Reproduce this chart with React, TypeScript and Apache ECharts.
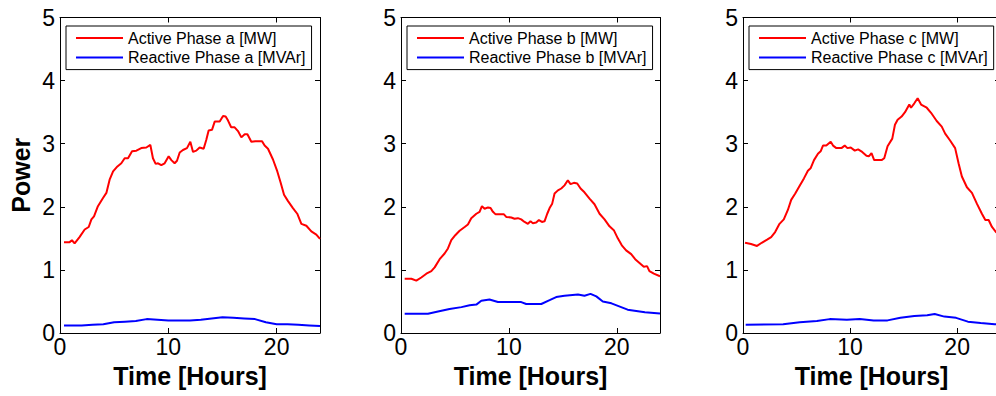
import React, { useEffect, useRef } from "react";
import * as echarts from "echarts";

// ---------- data (hours, value) ----------
const xTicks = [0, 10, 20];
const yTicks = [0, 1, 2, 3, 4, 5];

const activeA: [number, number][] = [
  [0.37, 1.44], [0.89, 1.44], [1.1, 1.47], [1.35, 1.42], [1.8, 1.52], [2.28, 1.64], [2.65, 1.68], [2.9, 1.8],
  [3.14, 1.85], [3.5, 2.01], [3.97, 2.14], [4.28, 2.22], [4.58, 2.43], [4.9, 2.56], [5.3, 2.64], [5.66, 2.69],
  [5.97, 2.77], [6.28, 2.77], [6.65, 2.88], [7.05, 2.89], [7.5, 2.93], [7.97, 2.94], [8.34, 2.98], [8.58, 2.77],
  [8.83, 2.68], [9.05, 2.69], [9.35, 2.66], [9.66, 2.69], [10.03, 2.8], [10.28, 2.74], [10.58, 2.69], [10.8, 2.73],
  [11.05, 2.86], [11.35, 2.9], [11.72, 2.93], [12.03, 3.03], [12.28, 2.87], [12.58, 2.89], [12.89, 2.94], [13.26, 2.92],
  [13.5, 3.06], [13.72, 3.21], [14.03, 3.22], [14.28, 3.35], [14.74, 3.35], [15.05, 3.44], [15.29, 3.43], [15.5, 3.37],
  [15.8, 3.26], [16.12, 3.26], [16.43, 3.2], [16.74, 3.1], [17.05, 3.15], [17.3, 3.15], [17.66, 3.03], [18.03, 3.04],
  [18.65, 3.04], [18.89, 2.97], [19.2, 2.92], [19.66, 2.75], [20.06, 2.56], [20.37, 2.38], [20.68, 2.19], [21.05, 2.09],
  [21.5, 1.98], [21.9, 1.89], [22.28, 1.73], [22.74, 1.7], [23.2, 1.61], [23.66, 1.56], [24.0, 1.49],
];

const reactiveA: [number, number][] = [
  [0.37, 0.12], [1, 0.12], [2, 0.12], [3, 0.13], [4, 0.14], [5, 0.17], [6, 0.18], [7, 0.19], [8, 0.22],
  [9, 0.21], [10, 0.2], [11, 0.2], [12, 0.2], [13, 0.21], [14, 0.23], [15, 0.25], [16, 0.24], [17, 0.23],
  [18, 0.22], [19, 0.17], [20, 0.14], [21, 0.14], [22, 0.13], [23, 0.12], [24, 0.11],
];

const activeB: [number, number][] = [
  [0.34, 0.86], [0.96, 0.86], [1.42, 0.83], [1.88, 0.88], [2.35, 0.94], [2.81, 0.98], [3.12, 1.04], [3.58, 1.17],
  [4.04, 1.26], [4.35, 1.34], [4.66, 1.47], [5.03, 1.55], [5.43, 1.62], [5.9, 1.68], [6.2, 1.72], [6.51, 1.82],
  [6.98, 1.89], [7.28, 1.92], [7.5, 2.01], [7.75, 1.97], [8.06, 1.99], [8.3, 1.98], [8.52, 1.92], [8.77, 1.88],
  [9.14, 1.88], [9.54, 1.88], [9.75, 1.84], [10.22, 1.83], [10.52, 1.81], [10.83, 1.82], [11.14, 1.8], [11.45, 1.76],
  [11.76, 1.73], [12.0, 1.77], [12.22, 1.74], [12.53, 1.75], [12.78, 1.79], [13.06, 1.76], [13.3, 1.77], [13.55, 1.89],
  [13.77, 1.98], [14.01, 2.05], [14.23, 2.21], [14.54, 2.26], [14.85, 2.29], [15.15, 2.34], [15.46, 2.42], [15.71, 2.36],
  [16.02, 2.38], [16.33, 2.37], [16.64, 2.29], [17.0, 2.23], [17.47, 2.13], [17.93, 2.04], [18.4, 1.89], [18.86, 1.8],
  [19.32, 1.69], [19.72, 1.63], [20.09, 1.5], [20.46, 1.39], [20.86, 1.31], [21.33, 1.25], [21.7, 1.17], [22.1, 1.11],
  [22.5, 1.05], [22.8, 1.06], [23.02, 0.98], [23.43, 0.94], [24.0, 0.9],
];

const reactiveB: [number, number][] = [
  [0.34, 0.305], [2.5, 0.305], [3.43, 0.34], [4.5, 0.38], [5.6, 0.41], [6.36, 0.44], [6.98, 0.45], [7.44, 0.51],
  [8.2, 0.53], [8.98, 0.49], [10.2, 0.49], [11.14, 0.49], [11.6, 0.46], [13.0, 0.46], [13.77, 0.52], [14.38, 0.57],
  [15.15, 0.59], [16.4, 0.61], [17.0, 0.59], [17.56, 0.62], [18.1, 0.58], [18.7, 0.5], [19.5, 0.47], [21.0, 0.37],
  [22.6, 0.33], [24.0, 0.31],
];

const activeC: [number, number][] = [
  [0.19, 1.43], [0.75, 1.41], [1.31, 1.38], [1.75, 1.43], [2.25, 1.48], [2.63, 1.52], [3.0, 1.6], [3.41, 1.73],
  [3.81, 1.8], [4.19, 1.95], [4.5, 2.11], [4.88, 2.21], [5.28, 2.33], [5.69, 2.45], [6.06, 2.57], [6.31, 2.61],
  [6.63, 2.74], [7.0, 2.84], [7.25, 2.88], [7.47, 2.97], [7.78, 2.97], [8.19, 3.03], [8.41, 2.97], [8.72, 2.93],
  [9.19, 2.93], [9.5, 2.97], [9.75, 2.93], [10.06, 2.94], [10.44, 2.89], [10.75, 2.91], [11.13, 2.87], [11.53, 2.81],
  [11.75, 2.8], [12.0, 2.85], [12.25, 2.74], [12.63, 2.74], [12.94, 2.74], [13.19, 2.77], [13.5, 2.96], [13.94, 3.08],
  [14.19, 3.3], [14.44, 3.38], [14.81, 3.43], [15.13, 3.5], [15.53, 3.62], [15.69, 3.57], [16.0, 3.64], [16.31, 3.72],
  [16.63, 3.62], [17.16, 3.57], [17.56, 3.49], [18.09, 3.36], [18.56, 3.27], [18.88, 3.16], [19.34, 3.05], [19.81, 2.93],
  [20.13, 2.69], [20.44, 2.48], [20.91, 2.31], [21.38, 2.22], [21.84, 2.05], [22.31, 1.89], [22.63, 1.79], [22.94, 1.79],
  [23.25, 1.68], [23.63, 1.6], [24.0, 1.56],
];

const reactiveC: [number, number][] = [
  [0.25, 0.13], [3.75, 0.14], [5.3, 0.17], [6.9, 0.19], [8.1, 0.22], [9.7, 0.21], [10.9, 0.22], [12.2, 0.2],
  [13.5, 0.2], [14.7, 0.24], [16.0, 0.27], [17.2, 0.28], [17.9, 0.3], [18.8, 0.26], [19.9, 0.24], [21.0, 0.18],
  [22.2, 0.16], [23.5, 0.14], [24.0, 0.14],
];

const phases = ["a", "b", "c"];
const activeData = [activeA, activeB, activeC];
const reactiveData = [reactiveA, reactiveB, reactiveC];

// ---------- layout ----------
const FONT = "'Liberation Sans', Arial, Helvetica, sans-serif";
const gridLefts = [60, 401, 743];
const gridWidths = [260, 259, 257];
const gridTop = 17.5;
const gridHeight = 315.5;

export default function App() {
  const ref = useRef<HTMLDivElement>(null);

  useEffect(() => {
    if (!ref.current) return;
    const chart = echarts.init(ref.current, undefined, { renderer: "svg" });

    const axisLine = { show: true, onZero: false, lineStyle: { color: "#000", width: 1 } };
    const tick = { show: true, inside: true, length: 5, lineStyle: { color: "#000", width: 1 } };

    const grids: any[] = [];
    const xAxes: any[] = [];
    const yAxes: any[] = [];
    const series: any[] = [];
    const legends: any[] = [];

    phases.forEach((p, i) => {
      grids.push({ left: gridLefts[i], top: gridTop, width: gridWidths[i], height: gridHeight, containLabel: false });
      xAxes.push({
        type: "value", gridIndex: i, min: 0, max: 24, interval: 10, position: "bottom",
        axisLine, axisTick: tick, splitLine: { show: false },
        axisLabel: {
          color: "#000", fontSize: 23, fontFamily: FONT, margin: 2,
          formatter: (v: number) => (xTicks.includes(v) ? String(v) : ""),
        },
        name: "Time [Hours]", nameLocation: "middle", nameGap: 30,
        nameTextStyle: { color: "#000", fontSize: 25, fontWeight: "bold", fontFamily: FONT },
      });
      xAxes.push({
        type: "value", gridIndex: i, min: 0, max: 24, interval: 10, position: "top",
        axisLine, axisTick: tick, splitLine: { show: false }, axisLabel: { show: false },
      });
      yAxes.push({
        type: "value", gridIndex: i, min: 0, max: 5, interval: 1, position: "left",
        axisLine, axisTick: tick, splitLine: { show: false },
        axisLabel: {
          color: "#000", fontSize: 23, fontFamily: FONT, margin: 5,
          formatter: (v: number) => (yTicks.includes(v) ? String(v) : ""),
        },
        ...(i === 0
          ? {
              name: "Power", nameLocation: "middle", nameGap: 27,
              nameTextStyle: { color: "#000", fontSize: 25, fontWeight: "bold", fontFamily: FONT },
            }
          : {}),
      });
      yAxes.push({
        type: "value", gridIndex: i, min: 0, max: 5, interval: 1, position: "right",
        axisLine, axisTick: tick, splitLine: { show: false }, axisLabel: { show: false },
      });

      const activeName = `Active Phase ${p} [MW]`;
      const reactiveName = `Reactive Phase ${p} [MVAr]`;
      series.push({
        type: "line", name: activeName, xAxisIndex: 2 * i, yAxisIndex: 2 * i,
        data: activeData[i], symbol: "none", showSymbol: false,
        lineStyle: { color: "#ff0000", width: 2 }, itemStyle: { color: "#ff0000" },
      });
      series.push({
        type: "line", name: reactiveName, xAxisIndex: 2 * i, yAxisIndex: 2 * i,
        data: reactiveData[i], symbol: "none", showSymbol: false,
        lineStyle: { color: "#0000ff", width: 2 }, itemStyle: { color: "#0000ff" },
      });
      legends.push({
        data: [activeName, reactiveName],
        orient: "vertical",
        left: gridLefts[i] + 6,
        top: 26,
        padding: [4, 6, 4, 10],
        itemGap: 3.6,
        icon: "rect",
        itemWidth: 47,
        itemHeight: 2,
        borderColor: "#000",
        borderWidth: 1,
        borderRadius: 0,
        backgroundColor: "#fff",
        selectedMode: false,
        textStyle: { color: "#000", fontSize: 16, fontFamily: FONT, lineHeight: 16 },
      });
    });

    chart.setOption({
      animation: false,
      backgroundColor: "#fff",
      grid: grids,
      xAxis: xAxes,
      yAxis: yAxes,
      legend: legends,
      series,
    });

    return () => chart.dispose();
  }, []);

  return (
    <div style={{ position: "fixed", left: 0, top: 0, width: 996, height: 396, overflow: "hidden", background: "#fff" }}>
      <div ref={ref} style={{ width: 1012, height: 396 }} />
    </div>
  );
}
